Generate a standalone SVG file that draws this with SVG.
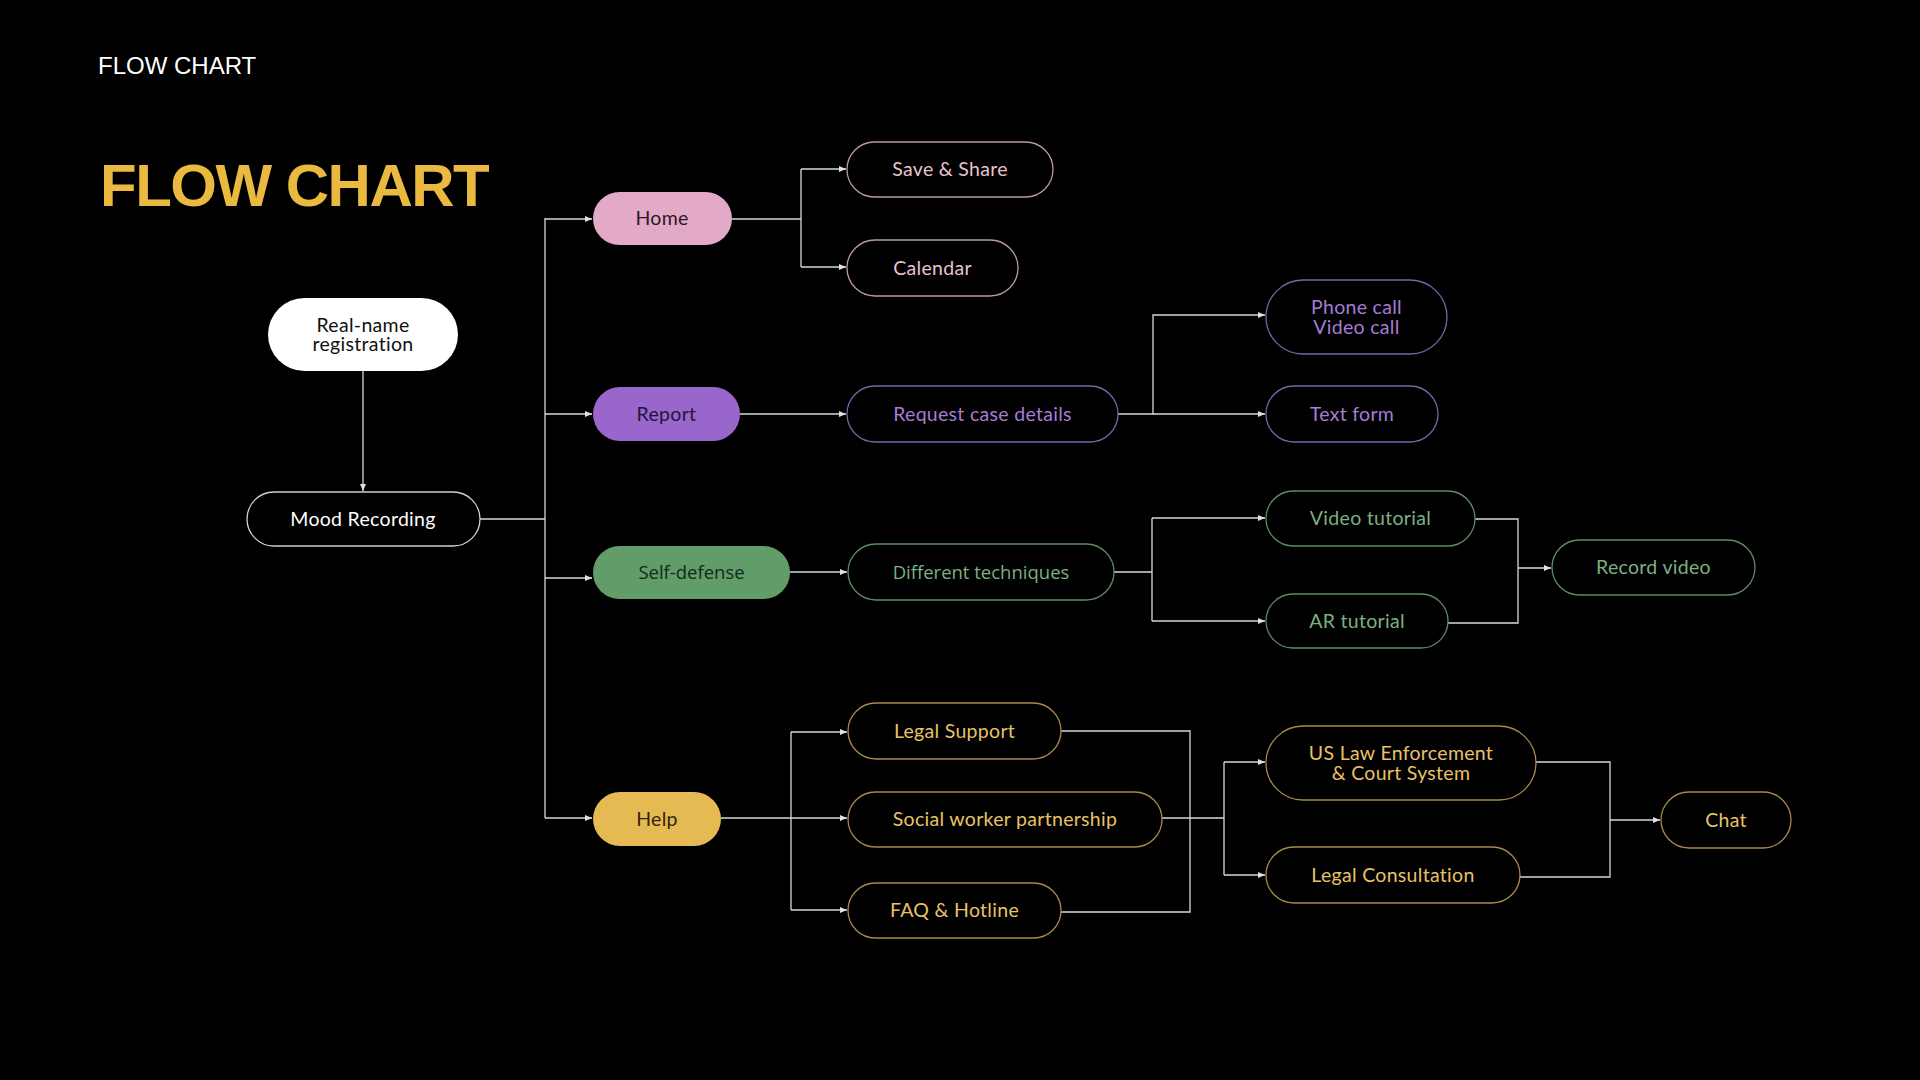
<svg xmlns="http://www.w3.org/2000/svg" width="1920" height="1080" viewBox="0 0 1920 1080">
<style>
.t{font-family:Lato,"Noto Sans",sans-serif;font-size:19.5px;letter-spacing:0.3px;text-anchor:middle}
.o{font-family:"Open Sans","Noto Sans",sans-serif;font-size:18.5px;text-anchor:middle}
.c{fill:none;stroke:#d8d8d8;stroke-width:1.3}
.a{marker-end:url(#ah)}
.pk{fill:#000;stroke:#b99aa3;stroke-width:1.3}
.pu{fill:#000;stroke:#7a63a6;stroke-width:1.3}
.gr{fill:#000;stroke:#5f8a64;stroke-width:1.3}
.yl{fill:#000;stroke:#a8894c;stroke-width:1.3}
.tpk{fill:#e6c3cf}
.tpu{fill:#a57cd6}
.tgr{fill:#7daf84}
.tyl{fill:#e7c266}
</style>
<defs>
<marker id="ah" markerUnits="userSpaceOnUse" markerWidth="7" markerHeight="6" refX="7" refY="3" orient="auto">
<path d="M0,0 L7,3 L0,6 z" fill="#e0e0e0"/>
</marker>
</defs>
<rect x="0" y="0" width="1920" height="1080" fill="#000"/>
<text x="98" y="74" font-family="'Liberation Sans',Arial,sans-serif" font-size="24" fill="#fff">FLOW CHART</text>
<text x="100" y="206" font-family="'Liberation Sans',Arial,sans-serif" font-size="60" font-weight="bold" letter-spacing="-1.5" fill="#e9b940">FLOW CHART</text>

<g id="connectors">
<path class="c a" d="M363,371 V491"/>
<path class="c" d="M480,519 H545 M545,218 V818"/>
<path class="c a" d="M545,219 H592"/>
<path class="c a" d="M545,414 H592"/>
<path class="c a" d="M545,578 H592"/>
<path class="c a" d="M545,818 H592"/>
<path class="c" d="M732,219 H801 M801,169 V267"/>
<path class="c a" d="M801,169 H846"/>
<path class="c a" d="M801,267 H846"/>
<path class="c a" d="M740,414 H846"/>
<path class="c a" d="M1118,414 H1153 V315 H1265"/>
<path class="c a" d="M1153,414 H1265"/>
<path class="c a" d="M790,572 H847"/>
<path class="c" d="M1114,572 H1152 M1152,518 V621"/>
<path class="c a" d="M1152,518 H1265"/>
<path class="c a" d="M1152,621 H1265"/>
<path class="c" d="M1475,519 H1518 V623 H1448"/>
<path class="c a" d="M1518,568 H1551"/>
<path class="c a" d="M721,818 H847"/>
<path class="c" d="M791,732 V910"/>
<path class="c a" d="M791,732 H847"/>
<path class="c a" d="M791,910 H847"/>
<path class="c" d="M1061,731 H1190 V912 H1061 M1162,818 H1224 M1224,762 V875"/>
<path class="c a" d="M1224,762 H1265"/>
<path class="c a" d="M1224,875 H1265"/>
<path class="c" d="M1536,762 H1610 V877 H1520"/>
<path class="c a" d="M1610,820 H1660"/>
</g>

<g id="n-registration"><rect x="268" y="298" width="190" height="73" rx="36.5" fill="#fff"/><text class="t" x="363" y="331.5" fill="#111">Real-name</text><text class="t" x="363" y="351" fill="#111">registration</text></g>
<g id="n-mood"><rect x="247" y="492" width="233" height="54" rx="27" fill="#000" stroke="#d0d0d0" stroke-width="1.3"/><text class="t" x="363" y="525.5" fill="#fff">Mood Recording</text></g>

<g id="n-home"><rect x="593" y="192" width="139" height="53" rx="26.5" fill="#e3aac8"/><text class="t" x="662" y="225" fill="#2a1820">Home</text></g>
<g id="n-save"><rect class="pk" x="847" y="142" width="206" height="55" rx="27.5"/><text class="t tpk" x="950" y="176">Save &amp; Share</text></g>
<g id="n-calendar"><rect class="pk" x="847" y="240" width="171" height="56" rx="28"/><text class="t tpk" x="932.5" y="274.5">Calendar</text></g>

<g id="n-report"><rect x="593" y="387" width="147" height="54" rx="27" fill="#9966cc"/><text class="t" x="666.5" y="420.5" fill="#24143a">Report</text></g>
<g id="n-request"><rect class="pu" x="847" y="386" width="271" height="56" rx="28"/><text class="t tpu" x="982.5" y="420.5">Request case details</text></g>
<g id="n-phone"><rect class="pu" x="1266" y="280" width="181" height="74" rx="37"/><text class="t tpu" x="1356.5" y="314">Phone call</text><text class="t tpu" x="1356.5" y="333.5">Video call</text></g>
<g id="n-textform"><rect class="pu" x="1266" y="386" width="172" height="56" rx="28"/><text class="t tpu" x="1352" y="420.5">Text form</text></g>

<g id="n-self"><rect x="593" y="546" width="197" height="53" rx="26.5" fill="#619c69"/><text class="o" x="691.5" y="579" fill="#132a17">Self-defense</text></g>
<g id="n-different"><rect class="gr" x="848" y="544" width="266" height="56" rx="28"/><text class="o tgr" x="981" y="578.5">Different techniques</text></g>
<g id="n-video"><rect class="gr" x="1266" y="491" width="209" height="55" rx="27.5"/><text class="t tgr" x="1370.5" y="525">Video tutorial</text></g>
<g id="n-ar"><rect class="gr" x="1266" y="594" width="182" height="54" rx="27"/><text class="t tgr" x="1357" y="627.5">AR tutorial</text></g>
<g id="n-record"><rect class="gr" x="1552" y="540" width="203" height="55" rx="27.5"/><text class="t tgr" x="1653.5" y="574">Record video</text></g>

<g id="n-help"><rect x="593" y="792" width="128" height="54" rx="27" fill="#e6ba52"/><text class="t" x="657" y="825.5" fill="#33250c">Help</text></g>
<g id="n-legal"><rect class="yl" x="848" y="703" width="213" height="56" rx="28"/><text class="t tyl" x="954.5" y="737.5">Legal Support</text></g>
<g id="n-social"><rect class="yl" x="848" y="792" width="314" height="55" rx="27.5"/><text class="t tyl" x="1005" y="826">Social worker partnership</text></g>
<g id="n-faq"><rect class="yl" x="848" y="883" width="213" height="55" rx="27.5"/><text class="t tyl" x="954.5" y="917">FAQ &amp; Hotline</text></g>
<g id="n-uslaw"><rect class="yl" x="1266" y="726" width="270" height="74" rx="37"/><text class="t tyl" x="1401" y="760">US Law Enforcement</text><text class="t tyl" x="1401" y="779.5">&amp; Court System</text></g>
<g id="n-consult"><rect class="yl" x="1266" y="847" width="254" height="56" rx="28"/><text class="t tyl" x="1393" y="881.5">Legal Consultation</text></g>
<g id="n-chat"><rect class="yl" x="1661" y="792" width="130" height="56" rx="28"/><text class="t tyl" x="1726" y="826.5">Chat</text></g>
</svg>
